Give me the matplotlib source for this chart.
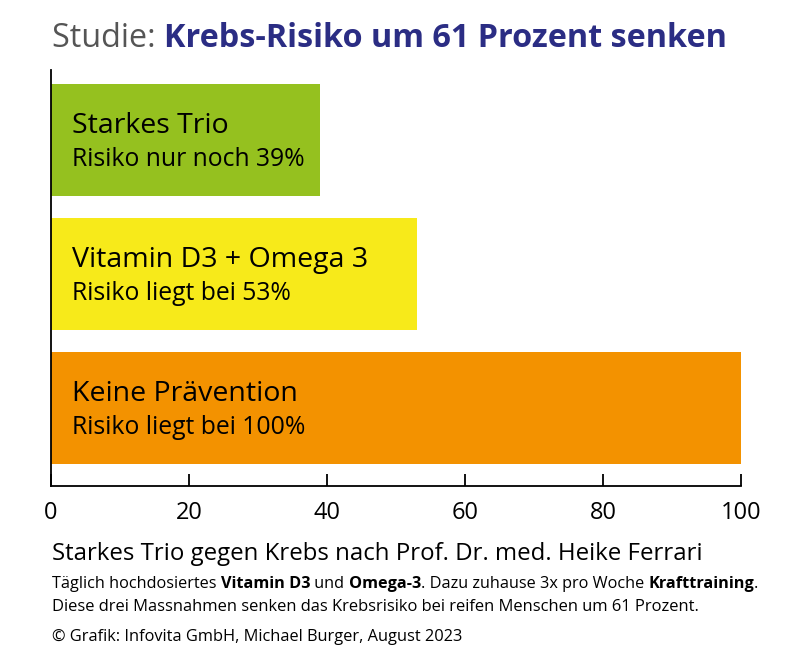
import matplotlib
matplotlib.use('Agg')
import matplotlib.pyplot as plt

plt.rcParams['font.family'] = ['Open Sans', 'DejaVu Sans']

labels = ['Starkes Trio', 'Vitamin D3 + Omega 3', 'Keine Prävention']
subs = ['Risiko nur noch 39%', 'Risiko liegt bei 53%', 'Risiko liegt bei 100%']
risk = [39, 53, 100]
colors = ['#95c11f', '#f7ea1a', '#f39200']
ticks = [0, 20, 40, 60, 80, 100]

W, H = 800, 659
fig = plt.figure(figsize=(W / 100, H / 100), dpi=100)
ax = fig.add_axes([51 / W, (H - 486) / H, 690 / W, 416 / H])

ypos = list(range(len(risk)))
ax.barh(ypos, risk, height=0.835, color=colors)
ax.set_xlim(0, 100)
ax.set_ylim(2.58, -0.522)

for y, lab, sub in zip(ypos, labels, subs):
    ax.text(3.0, y - 0.055, lab, fontsize=20.5, va='baseline', ha='left', color='black')
    ax.text(3.0, y + 0.195, sub, fontsize=17.8, va='baseline', ha='left', color='black')

ax.set_xticks(ticks)
ax.set_yticks([])
ax.tick_params(axis='x', direction='in', length=8.5, width=1.3, labelsize=17, pad=11)
for s in ['top', 'right']:
    ax.spines[s].set_visible(False)
for s in ['left', 'bottom']:
    ax.spines[s].set_linewidth(1.3)

fig.canvas.draw()
renderer = fig.canvas.get_renderer()


def run_text(x, y, pieces, size, color='black'):
    # draw pieces of text one after another on one line (pixel coords)
    for txt, weight, col in pieces:
        t = fig.text(x / W, 1 - y / H, txt, fontsize=size, fontweight=weight,
                     color=col or color, va='baseline', ha='left')
        bb = t.get_window_extent(renderer)
        x += bb.width


run_text(52, 47, [('Studie: ', 'normal', '#555555'),
                  ('Krebs-Risiko um 61 Prozent senken', 'bold', '#2b2d84')], 23.3)

run_text(52, 560, [('Starkes Trio gegen Krebs nach Prof. Dr. med. Heike Ferrari', 'normal', None)], 17.3)
run_text(52, 588, [('Täglich hochdosiertes ', 'normal', None), ('Vitamin D3', 'bold', None),
                   (' und ', 'normal', None), ('Omega-3', 'bold', None),
                   ('. Dazu zuhause 3x pro Woche ', 'normal', None), ('Krafttraining', 'bold', None),
                   ('.', 'normal', None)], 11.7)
run_text(52, 611, [('Diese drei Massnahmen senken das Krebsrisiko bei reifen Menschen um 61 Prozent.', 'normal', None)], 11.9)
run_text(52, 641, [('© Grafik: Infovita GmbH, Michael Burger, August 2023', 'normal', None)], 11.8)

fig.savefig('out.png', dpi=100)
